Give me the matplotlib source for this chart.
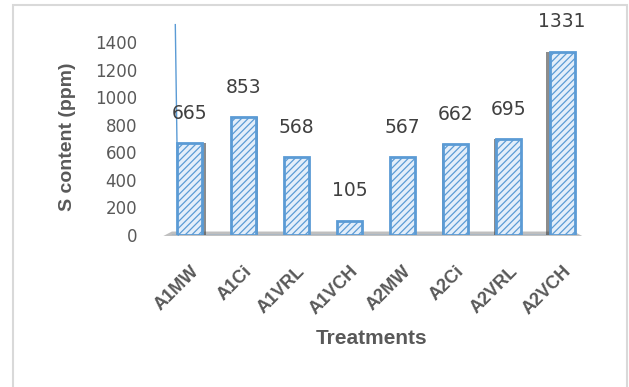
import matplotlib
matplotlib.use("Agg")
import matplotlib.pyplot as plt
from matplotlib.patches import Polygon, Rectangle
from matplotlib.lines import Line2D

# Sulphur content by treatment
treatments = ["A1MW", "A1Ci", "A1VRL", "A1VCH", "A2MW", "A2Ci", "A2VRL", "A2VCH"]
s_content = [665, 853, 568, 105, 567, 662, 695, 1331]
y_ticks = [0, 200, 400, 600, 800, 1000, 1200, 1400]

plt.rcParams['font.family'] = ['Liberation Sans', 'DejaVu Sans']
plt.rcParams['hatch.color'] = '#5b9bd5'
plt.rcParams['hatch.linewidth'] = 0.9

W, H = 629, 387
fig = plt.figure(figsize=(W / 100, H / 100), dpi=100)
fig.patch.set_facecolor('white')

# outer frame
fig.add_artist(Rectangle((13 / W, -0.05), (627 - 13) / W, 1.05 - 5 / H,
                         transform=fig.transFigure, fill=False,
                         edgecolor='#d9d9d9', linewidth=1.5))

left_px, right_px = 163.4, 588.6
top_px, bot_px = 42, 235
ax = fig.add_axes([left_px / W, (H - bot_px) / H,
                   (right_px - left_px) / W, (bot_px - top_px) / H])
ax.set_facecolor('none')

x = list(range(len(treatments)))
ax.set_xlim(-0.5, len(treatments) - 0.5)
ax.set_ylim(0, 1400)

# floor strip under the bars
ax.add_patch(Polygon([(0.0, -0.005), (0.985, -0.005), (0.965, 0.018), (0.02, 0.018)],
                     closed=True, transform=ax.transAxes, facecolor='#bfbfbf',
                     edgecolor='none', zorder=1, clip_on=False))
ax.add_line(Line2D([0.02, 0.96], [0.0, 0.0], transform=ax.transAxes,
                   color='#5b9bd5', linewidth=1.0, zorder=2))
# vertical axis line
ax.add_line(Line2D([0.028, 0.035], [1.09, 0.0], transform=ax.transAxes,
                   color='#5b9bd5', linewidth=1.0, zorder=2, clip_on=False))

# depth shading of each column
for xi, v in zip(x, s_content):
    shift = 0.07 * (3.5 - xi) / 3.5
    ax.bar(xi + shift, v, width=0.45, color='#404040', alpha=0.6,
           linewidth=0, zorder=2)

ax.bar(x, s_content, width=0.47, color='#e3eefa', edgecolor='#5b9bd5',
       linewidth=2.0, hatch='/////', zorder=3)

for xi, v in zip(x, s_content):
    ax.annotate(f"{v}", (xi, v), xytext=(0, 14.5), textcoords='offset points',
                ha='center', va='bottom', fontsize=13.5, color='#404040',
                family='DejaVu Sans')

for s in ax.spines.values():
    s.set_visible(False)

ax.set_yticks(y_ticks)
ax.set_yticklabels([str(t) for t in y_ticks], family='DejaVu Sans')
ax.tick_params(axis='y', length=0, pad=19, labelsize=12, labelcolor='#595959')
ax.set_xticks(x)
ax.set_xticklabels(treatments, rotation=45, ha='right', rotation_mode='anchor',
                   fontweight='bold')
ax.tick_params(axis='x', length=0, pad=20, labelsize=13, labelcolor='#595959')

ax.set_ylabel("S content (ppm)", fontsize=14, fontweight='bold', color='#595959')
ax.yaxis.set_label_coords(-0.205, 0.508)
ax.set_xlabel("Treatments", fontsize=15, fontweight='bold', color='#595959')
ax.xaxis.set_label_coords(0.49, -0.487)

fig.savefig("out.png", dpi=100, facecolor='white')
